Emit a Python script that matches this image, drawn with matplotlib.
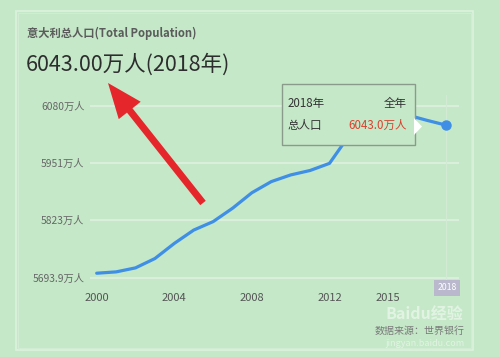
import matplotlib
matplotlib.use("Agg")
import matplotlib.pyplot as plt
from matplotlib.patches import Rectangle, FancyArrow, Polygon

plt.rcParams['font.family'] = ['Noto Sans CJK SC', 'DejaVu Sans']

# Italy total population, in 万人
years = [2000, 2001, 2002, 2003, 2004, 2005, 2006, 2007, 2008, 2009,
         2010, 2011, 2012, 2013, 2014, 2015, 2016, 2017, 2018]
population = [5704, 5707, 5716, 5737, 5771, 5801, 5820, 5850, 5885, 5910,
              5925, 5935, 5951, 6013, 6070, 6066, 6060, 6048, 6037]

y_ticks = [5693.9, 5823, 5951, 6080]
y_tick_labels = ["5693.9万人", "5823万人", "5951万人", "6080万人"]
x_ticks = [2000, 2004, 2008, 2012, 2015]
x_tick_labels = ["2000", "2004", "2008", "2012", "2015"]

title = "意大利总人口(Total Population)"
headline = "6043.00万人(2018年)"
tip_year, tip_period = "2018年", "全年"
tip_name, tip_value = "总人口", "6043.0万人"
source = "数据来源：世界银行"

bg = '#c5e8c8'
W, H = 500, 357

fig = plt.figure(figsize=(W / 100, H / 100), dpi=100, facecolor=bg)

# plot area, placed in pixels (left 90, right 459, top 95, bottom 285)
ax = fig.add_axes([90 / W, 1 - 285 / H, 369 / W, 190 / H])
ax.set_facecolor(bg)
ax.set_xlim(1999.655, 2018.675)
ax.set_ylim(5677.5, 6104.7)
for s in ax.spines.values():
    s.set_visible(False)

for v in y_ticks:
    ax.axhline(v, color='#e0f2e1', lw=1.1, zorder=1)
ax.axvline(2018, color='#d2ead3', lw=0.8, zorder=1)

ax.plot(years, population, color='#3f8fe6', lw=2.3, solid_capstyle='round',
        solid_joinstyle='round', zorder=3)
ax.plot(years[-1], population[-1], 'o', color='#3f8fe6', ms=6.5, zorder=4)

ax.set_yticks(y_ticks)
ax.set_yticklabels(y_tick_labels)
ax.set_xticks(x_ticks)
ax.set_xticklabels(x_tick_labels)
ax.tick_params(axis='y', length=0, pad=4, labelsize=7.4, labelcolor='#666666')
ax.tick_params(axis='x', length=0, pad=5.5, labelsize=8, labelcolor='#555555')

# overlay in pixel coordinates for titles, tooltip, arrow
ov = fig.add_axes([0, 0, 1, 1], zorder=5)
ov.set_xlim(0, W)
ov.set_ylim(H, 0)
ov.axis('off')
ov.patch.set_alpha(0)

ov.add_patch(Rectangle((16, 11), 457, 339, fill=False, edgecolor='#dcf1dd', lw=1.2))
ov.add_patch(Rectangle((18, 13), 453, 335, fill=False, edgecolor='#d2ecd3', lw=0.8))

ov.text(27, 33, title, fontsize=8.1, fontweight='bold', color='#5b5b5b',
        ha='left', va='center')
ov.text(26, 65, headline, fontsize=15.5, color='#2d2d2d', ha='left', va='center')

# tooltip
ov.add_patch(Rectangle((281.5, 83.5), 133.5, 61.5, facecolor=bg,
                       edgecolor='#8a9a8b', lw=1))
ov.add_patch(Polygon([(414, 118), (422, 126.5), (414, 135)], closed=True,
                     facecolor='white', edgecolor='none'))
ov.text(288, 103, tip_year, fontsize=8.3, color='#333333', ha='left', va='center')
ov.text(407, 103, tip_period, fontsize=8.3, color='#333333', ha='right', va='center')
ov.text(288, 125, tip_name, fontsize=8.3, color='#333333', ha='left', va='center')
ov.text(407, 125, tip_value, fontsize=8.3, color='#d9412f', ha='right', va='center')

# 2018 badge
ov.text(447, 288, "2018", fontsize=6.3, color='white', ha='center', va='center',
        bbox=dict(boxstyle='square,pad=0.35', facecolor='#b9b8cc', edgecolor='none'))

# watermark, then source below it
ov.text(424, 314, "Baidu经验", fontsize=11.5, color='white', alpha=0.5,
        ha='center', va='center', fontweight='bold')
ov.text(420, 331, source, fontsize=7.2, color='#7a7a7a', ha='center', va='center')
ov.text(425, 343, "jingyan.baidu.com", fontsize=6.5, color='white', alpha=0.5,
        ha='center', va='center')

# red arrow
ov.add_patch(FancyArrow(203, 203, 108 - 203, 83 - 203, width=7, head_width=28,
                        head_length=35, length_includes_head=True,
                        color='#e5262b', lw=0))

fig.savefig("out.png", dpi=100, facecolor=bg)
